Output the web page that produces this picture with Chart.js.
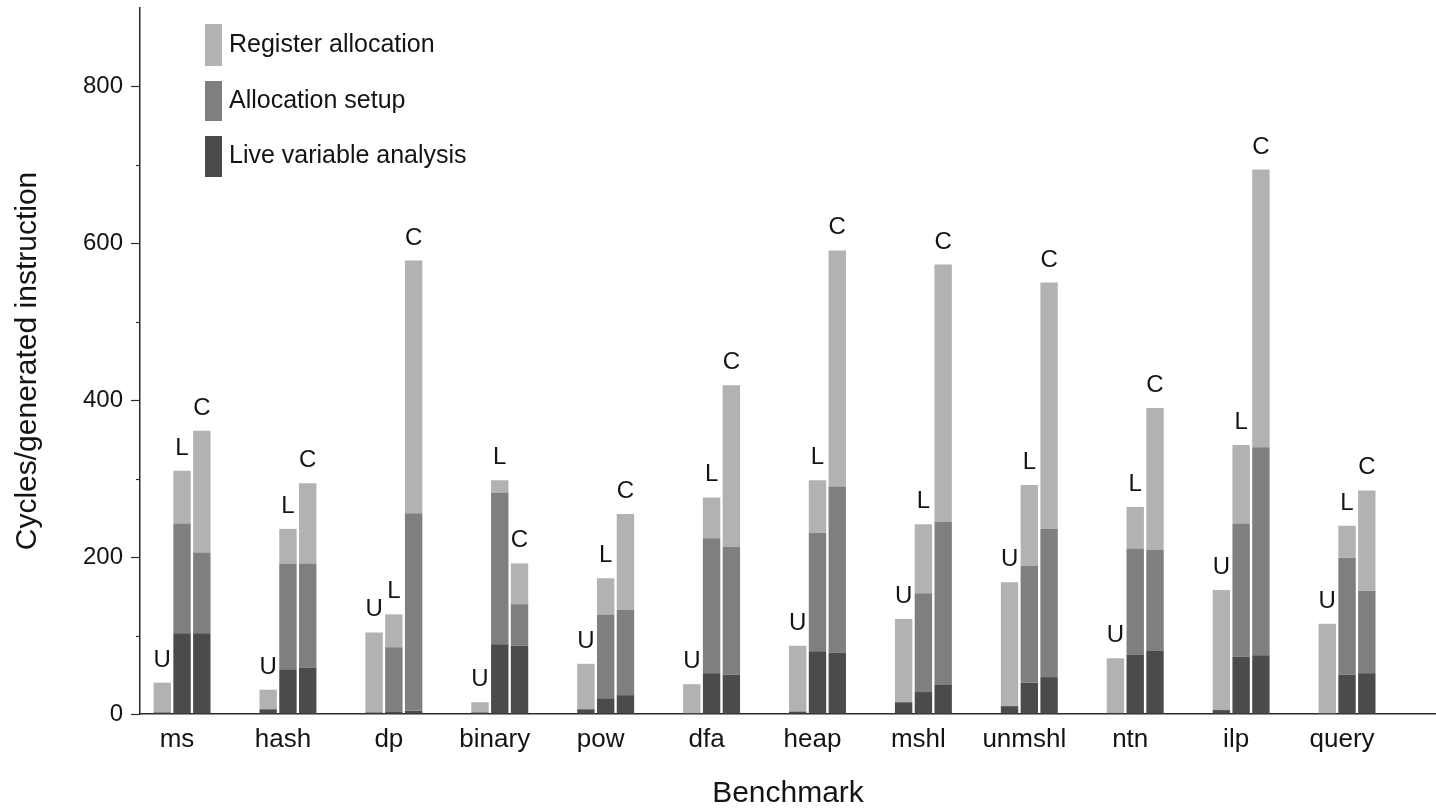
<!DOCTYPE html>
<html>
<head>
<meta charset="utf-8">
<title>Cycles per generated instruction</title>
<script src="https://cdn.jsdelivr.net/npm/chart.js@4/dist/chart.umd.min.js"></script>
<style>
  html, body { margin: 0; padding: 0; background: #fff; }
  #wrap { width: 1436px; height: 809px; position: relative; }
</style>
</head>
<body>
<div id="wrap"><canvas id="chart"></canvas></div>
<script>
// ---- data ----
const benchmarks = ['ms', 'hash', 'dp', 'binary', 'pow', 'dfa', 'heap', 'mshl', 'unmshl', 'ntn', 'ilp', 'query'];
const variants = ['U', 'L', 'C'];

// Live variable analysis (bottom segment)
const lvaU = [2, 6, 2, 2, 6, 1, 3, 15, 10, 1.5, 5, 1];
const lvaL = [103, 57, 3, 89, 20, 52, 80, 28, 40, 76, 73, 50];
const lvaC = [103, 59, 4, 87, 24, 50, 78, 37, 47, 81, 75, 52];

// Allocation setup (middle segment)
const setupU = [0, 0, 0, 0, 0, 0, 0, 0, 0, 0, 0, 0];
const setupL = [140, 135, 82, 193, 107, 172, 151, 126, 149, 135, 170, 149];
const setupC = [103, 133, 252, 53, 109, 163, 212, 208, 189, 128, 265, 105];

// Register allocation (top segment)
const regU = [38, 25, 102, 13, 58, 37, 84, 106, 158, 69.5, 153, 114];
const regL = [67, 44, 42, 16, 46, 52, 67, 88, 103, 53, 100, 41];
const regC = [155, 102, 322, 52, 122, 206, 301, 328, 314, 181, 354, 128];

const yTicks = [0, 200, 400, 600, 800];

// ---- styling ----
const FONT = "'Liberation Sans', Arial, Helvetica, sans-serif";
const TEXT = '#141414';
const AXIS = '#2b2b2b';
const segments = [
    { label: 'Live variable analysis', color: '#4b4b4b', data: { U: lvaU, L: lvaL, C: lvaC } },
    { label: 'Allocation setup', color: '#7f7f7f', data: { U: setupU, L: setupL, C: setupC } },
    { label: 'Register allocation', color: '#b2b2b2', data: { U: regU, L: regL, C: regC } }
];

const datasets = [];
variants.forEach(v => {
    segments.forEach((seg, si) => {
        datasets.push({
            label: seg.label,
            stack: v,
            variant: v,
            isTop: si === segments.length - 1,
            data: seg.data[v].map((y, i) => ({ x: i, y: y })),
            backgroundColor: seg.color,
            borderWidth: 0,
            categoryPercentage: 0.56,
            barPercentage: 0.88
        });
    });
});

// U / L / C letter above each bar
const barLetters = {
    id: 'barLetters',
    afterDatasetsDraw(chart) {
        const ctx = chart.ctx;
        ctx.save();
        ctx.font = '24px ' + FONT;
        ctx.fillStyle = TEXT;
        ctx.textAlign = 'center';
        ctx.textBaseline = 'alphabetic';
        chart.data.datasets.forEach((ds, di) => {
            if (!ds.isTop) return;
            chart.getDatasetMeta(di).data.forEach(bar => {
                ctx.fillText(ds.variant, bar.x, bar.y - 16);
            });
        });
        ctx.restore();
    }
};

// short minor ticks on the y axis
const minorTicks = {
    id: 'minorTicks',
    afterDraw(chart) {
        const y = chart.scales.y;
        const ctx = chart.ctx;
        ctx.save();
        ctx.strokeStyle = AXIS;
        ctx.lineWidth = 1.2;
        y.ticks.forEach(t => {
            if (yTicks.includes(t.value) || t.value >= y.max) return;
            const py = Math.round(y.getPixelForValue(t.value)) + 0.5;
            ctx.beginPath();
            ctx.moveTo(y.right - 4, py);
            ctx.lineTo(y.right, py);
            ctx.stroke();
        });
        ctx.restore();
    }
};

// vertical legend inside the plot, tall swatches
const sideLegend = {
    id: 'sideLegend',
    afterDraw(chart) {
        const ctx = chart.ctx;
        const x0 = chart.chartArea.left + 65;
        const rows = [
            { seg: segments[2], top: 24, h: 42 },
            { seg: segments[1], top: 81, h: 40 },
            { seg: segments[0], top: 136, h: 41 }
        ];
        ctx.save();
        ctx.font = '25px ' + FONT;
        ctx.textBaseline = 'middle';
        ctx.textAlign = 'left';
        rows.forEach(r => {
            ctx.fillStyle = r.seg.color;
            ctx.fillRect(x0, r.top, 17, r.h);
            ctx.fillStyle = TEXT;
            ctx.fillText(r.seg.label, x0 + 24, r.top + r.h / 2);
        });
        ctx.restore();
    }
};

new Chart(document.getElementById('chart'), {
    type: 'bar',
    data: { datasets: datasets },
    options: {
        responsive: true,
        maintainAspectRatio: false,
        animation: false,
        layout: { padding: { top: 8, right: 0, left: 0, bottom: 0 } },
        plugins: {
            legend: { display: false },
            tooltip: { enabled: false }
        },
        scales: {
            x: {
                type: 'linear',
                offset: false,
                min: -0.397,
                max: 11.84,
                grid: { display: false, drawTicks: false, offset: false },
                border: { display: true, color: AXIS, width: 1.5 },
                ticks: {
                    stepSize: 1,
                    includeBounds: false,
                    autoSkip: false,
                    maxRotation: 0,
                    labelOffset: -5,
                    padding: 10,
                    color: TEXT,
                    font: { family: FONT, size: 26 },
                    callback: v => Number.isInteger(v) ? benchmarks[v] : ''
                },
                title: {
                    display: true,
                    text: 'Benchmark',
                    color: TEXT,
                    font: { family: FONT, size: 30, lineHeight: 1 },
                    padding: { top: 0, bottom: 0 }
                },
                afterFit: s => { s.height = 95; }
            },
            y: {
                stacked: true,
                min: 0,
                max: 900,
                grid: {
                    drawOnChartArea: false,
                    drawTicks: true,
                    tickLength: 9,
                    tickWidth: 1.2,
                    tickColor: c => yTicks.includes(c.tick.value) ? AXIS : 'rgba(0,0,0,0)'
                },
                border: { display: true, color: AXIS, width: 1.5 },
                ticks: {
                    stepSize: 100,
                    autoSkip: false,
                    padding: 8,
                    color: TEXT,
                    font: { family: FONT, size: 24 },
                    callback: v => yTicks.includes(v) ? String(v) : ''
                },
                title: {
                    display: true,
                    text: 'Cycles/generated instruction',
                    color: TEXT,
                    font: { family: FONT, size: 30, lineHeight: 1.2 },
                    padding: { top: 10, bottom: 0 }
                },
                afterFit: s => { s.width = 140; s.paddingTop = 0; s.paddingBottom = 0; }
            }
        }
    },
    plugins: [barLetters, minorTicks, sideLegend]
});
</script>
</body>
</html>
